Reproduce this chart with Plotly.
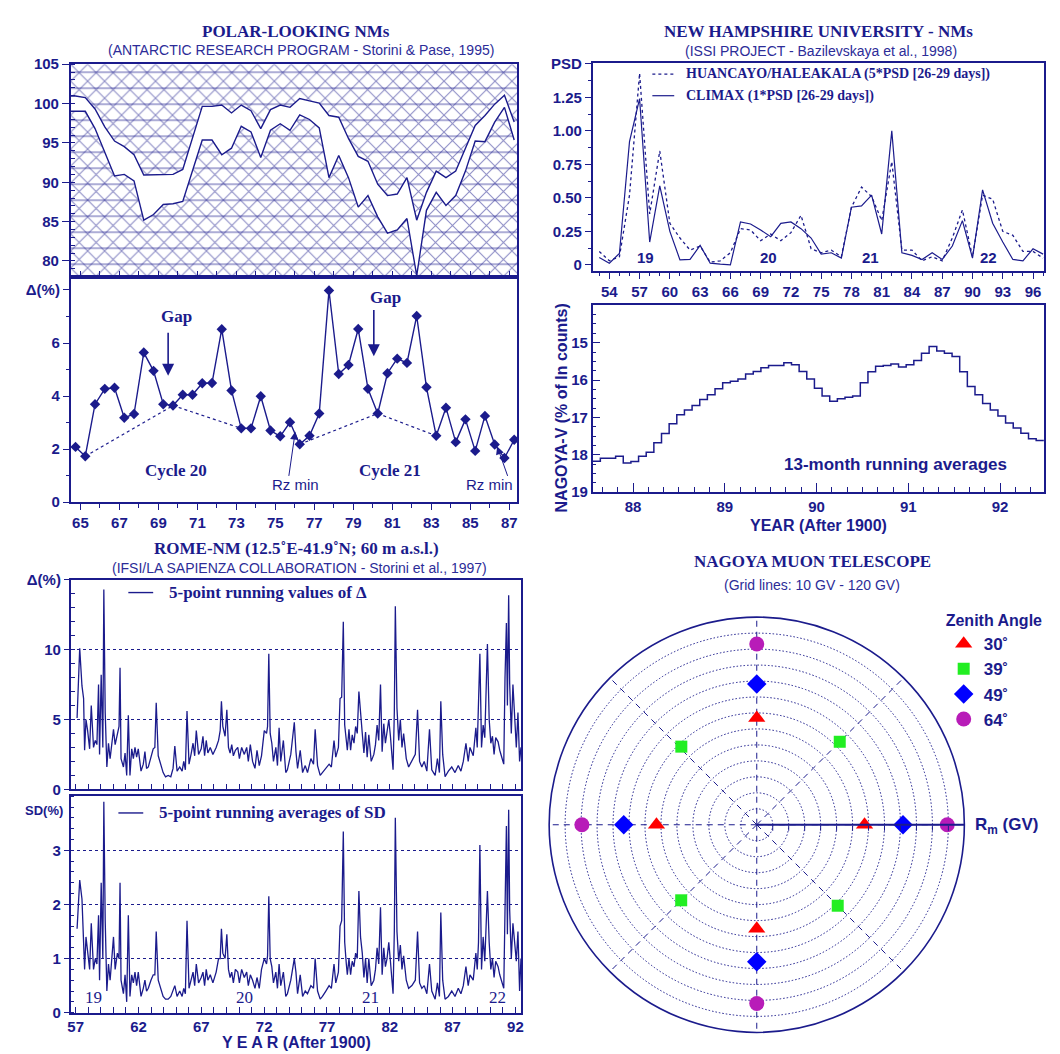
import plotly.graph_objects as go

W, H = 1060, 1054
NAVY = '#1b1b8c'
SUB = '#2c2c98'
SANS = 'Liberation Sans, Arial, sans-serif'
SERIF = 'Liberation Serif, Times New Roman, serif'

# ---------------- Panel A / B : POLAR-LOOKING NMs ----------------
polar_years = [64.75, 65.25, 65.75, 66.25, 66.75, 67.25, 67.75, 68.25, 68.75, 69.25,
               69.75, 70.25, 70.75, 71.25, 71.75, 72.25, 72.75, 73.25, 73.75, 74.25,
               74.75, 75.25, 75.75, 76.25, 76.75, 77.25, 77.75, 78.25, 78.75, 79.25,
               79.75, 80.25, 80.75, 81.25, 81.75, 82.25, 82.75, 83.25, 83.75, 84.25,
               84.75, 85.25, 85.75, 86.25, 86.75, 87.25]
polar_upper = [100.97, 100.76, 99.31, 97.03, 95.24, 94.53, 93.5, 90.92, 90.92, 90.92,
               91.0, 91.63, 95.57, 99.64, 99.64, 99.81, 98.81, 99.81, 99.1, 96.82,
               99.23, 99.81, 99.52, 100.64, 100.35, 100.06, 98.48, 98.27, 95.57, 93.29,
               92.67, 89.76, 88.31, 88.51, 90.59, 85.19, 88.72, 91.42, 90.59, 91.42,
               94.33, 97.23, 98.48, 99.93, 101.05, 97.65]
polar_lower = [99.02, 99.02, 96.82, 93.7, 90.8, 91.0, 90.17, 85.19, 85.9, 87.18,
               87.27, 87.56, 91.42, 95.37, 95.37, 93.5, 94.33, 97.11, 96.4, 93.16,
               96.61, 97.44, 96.61, 98.56, 97.98, 96.9, 90.59, 93.41, 90.59, 86.85,
               88.31, 85.61, 83.53, 83.95, 85.4, 78.13, 86.44, 88.72, 87.06, 88.31,
               91.42, 95.24, 95.16, 97.65, 99.52, 95.37]
delta_vals = [2.08, 1.73, 3.69, 4.27, 4.31, 3.18, 3.32, 5.64, 4.95, 3.69,
              3.64, 4.05, 4.05, 4.48, 4.49, 6.52, 4.21, 2.78, 2.78, 3.99,
              2.70, 2.48, 3.01, 2.18, 2.50, 3.34, 7.98, 4.83, 5.17, 6.53,
              4.27, 3.34, 4.86, 5.41, 5.25, 7.02, 4.33, 2.50, 3.56, 2.26,
              3.12, 1.93, 3.25, 2.17, 1.66, 2.35]
# index pairs of the dotted envelope segments (cycle minima -> gap -> minima)
envelope_pairs = [(1, 10), (10, 17), (23, 31), (31, 37)]

# ---------------- Panel C : New Hampshire PSD ----------------
psd_years = [53, 54, 55, 56, 57, 58, 59, 60, 61, 62, 63, 64, 65, 66, 67, 68, 69, 70, 71, 72,
             73, 74, 75, 76, 77, 78, 79, 80, 81, 82, 83, 84, 85, 86, 87, 88, 89, 90, 91, 92,
             93, 94, 95, 96, 97]
psd_huancayo = [0.10, 0.03, 0.06, 0.52, 1.43, 0.38, 0.85, 0.31, 0.20, 0.11, 0.14, 0.02, 0.03,
                0.09, 0.27, 0.26, 0.18, 0.23, 0.18, 0.24, 0.37, 0.12, 0.09, 0.11, 0.06, 0.43,
                0.58, 0.51, 0.33, 0.77, 0.11, 0.11, 0.03, 0.06, 0.03, 0.20, 0.41, 0.06, 0.52,
                0.49, 0.25, 0.22, 0.10, 0.10, 0.05]
psd_climax = [0.054, 0.012, 0.085, 0.92, 1.24, 0.17, 0.59, 0.25, 0.037, 0.04, 0.145, 0.012,
              0.005, 0.0, 0.32, 0.305, 0.26, 0.21, 0.31, 0.32, 0.27, 0.20, 0.08, 0.09, 0.05,
              0.43, 0.44, 0.52, 0.23, 1.00, 0.09, 0.07, 0.04, 0.09, 0.04, 0.14, 0.33, 0.05,
              0.56, 0.31, 0.17, 0.04, 0.03, 0.12, 0.08]
psd_cycle_labels = ['19', '20', '21', '22']
psd_cycle_x = [57.6, 69.8, 79.9, 91.6]

# ---------------- Panel D : Nagoya-V 13-month running averages ----------------
nagoya_start = 87.56
nagoya_v = [18.17, 18.09, 18.09, 18.04, 18.22, 18.18, 18.04, 17.93, 17.68, 17.43, 17.17, 16.93,
            16.80, 16.68, 16.52, 16.39, 16.23, 16.07, 16.03, 15.97, 15.84, 15.77, 15.67, 15.61,
            15.61, 15.54, 15.59, 15.77, 15.97, 16.22, 16.43, 16.57, 16.50, 16.46, 16.43, 16.07,
            15.78, 15.63, 15.61, 15.57, 15.65, 15.59, 15.48, 15.28, 15.10, 15.22, 15.28, 15.37,
            15.78, 16.17, 16.39, 16.63, 16.80, 16.96, 17.15, 17.28, 17.42, 17.57, 17.62]

# ---------------- Panels E / F : Rome NM ----------------
rome_years = [57.11, 57.32, 57.50, 57.63, 57.71, 57.82, 57.95, 58.11, 58.24, 58.42, 58.56, 58.69,
              58.82, 58.90, 59.03, 59.16, 59.24, 59.35, 59.48, 59.61, 59.74, 59.87, 60.01, 60.14,
              60.32, 60.45, 60.53, 60.61, 60.80, 60.93, 61.06, 61.19, 61.32, 61.46, 61.59, 61.72,
              61.85, 61.98, 62.20, 62.38, 62.51, 62.64, 62.78, 62.99, 63.17, 63.30, 63.41, 63.57,
              63.78, 63.96, 64.15, 64.36, 64.57, 64.75, 64.89, 65.07, 65.28, 65.47, 65.60, 65.73,
              65.86, 66.02, 66.20, 66.34, 66.47, 66.60, 66.78, 66.99, 67.13, 67.26, 67.39, 67.52,
              67.71, 67.92, 68.18, 68.37, 68.50, 68.60, 68.71, 68.89, 69.03, 69.16, 69.29, 69.42,
              69.55, 69.71, 69.90, 70.03, 70.21, 70.42, 70.61, 70.74, 70.90, 71.08, 71.27, 71.43,
              71.61, 71.79, 72.01, 72.19, 72.27, 72.37, 72.48, 72.61, 72.74, 72.93, 73.06, 73.19,
              73.32, 73.53, 73.72, 73.85, 74.12,
              74.40, 74.53, 74.66, 74.87, 75.06, 75.27, 75.45, 75.72, 75.93, 76.06, 76.25, 76.46,
              76.64, 76.91, 77.17, 77.35, 77.56, 77.70, 77.91, 78.04, 78.17, 78.30, 78.41, 78.54,
              78.62, 78.75, 78.88, 79.01, 79.15, 79.28, 79.41, 79.54, 79.67, 79.81, 79.94, 80.07,
              80.20, 80.33, 80.52, 80.73, 80.86, 80.99, 81.12, 81.26, 81.39, 81.52, 81.65, 81.78,
              81.92, 82.05, 82.26, 82.36, 82.44, 82.57, 82.71, 82.84, 82.97, 83.10, 83.31, 83.50,
              83.76, 84.03, 84.21, 84.37, 84.55, 84.74, 84.95, 85.16, 85.34, 85.61, 85.79, 85.95,
              86.06, 86.21, 86.40, 86.66, 86.93, 87.19, 87.45, 87.66, 87.85, 88.06, 88.24, 88.38,
              88.64, 88.85, 88.96, 89.06, 89.17, 89.30, 89.43, 89.56, 89.69, 89.77, 89.91, 90.04,
              90.17, 90.30, 90.43, 90.62, 90.75, 90.88, 91.07, 91.17, 91.28, 91.36, 91.46, 91.54,
              91.67, 91.80, 91.94, 92.07, 92.20, 92.33, 92.44]
rome_delta = [5.1, 10.1, 7.4, 6.5, 2.8, 5.0, 4.2, 2.9, 6.0, 3.0, 3.5, 3.2,
              7.5, 2.5, 8.2, 3.0, 14.3, 5.5, 1.6, 3.3, 2.2, 3.5, 4.3, 3.2,
              3.9, 4.5, 8.7, 2.2, 1.6, 2.6, 1.0, 5.3, 1.0, 2.9, 2.2, 3.0,
              2.3, 2.9, 1.3, 1.8, 2.7, 1.5, 1.6, 2.3, 2.9, 3.0, 6.2, 2.4,
              1.8, 1.2, 0.9, 1.0, 0.9, 1.5, 3.1, 1.3, 1.6, 1.3, 2.0, 1.4,
              5.6, 1.8, 2.6, 3.3, 2.4, 4.2, 2.5, 2.9, 3.8, 2.4, 3.5, 2.6,
              3.0, 2.5, 3.0, 3.5, 4.2, 6.3, 4.5, 3.8, 5.7, 3.0, 2.6, 3.2,
              2.4, 2.8, 3.0, 2.2, 3.0, 2.5, 3.0, 2.0, 3.2, 2.0, 1.5, 2.8,
              1.7, 2.4, 4.2, 4.0, 4.5, 9.7, 4.0, 3.3, 2.0, 3.0, 1.7, 4.4,
              2.0, 3.5, 1.2, 1.4, 2.5,
              4.8, 2.7, 1.5, 2.8, 1.2, 1.7, 1.2, 2.2, 1.8, 4.3, 1.7, 1.0,
              1.2, 1.5, 1.8, 1.6, 3.5, 2.3, 3.0, 6.5, 6.6, 12.0, 4.6, 3.5,
              2.8, 4.3, 2.8, 3.9, 3.3, 4.5, 4.0, 7.0, 5.2, 4.0, 2.6, 4.1,
              2.3, 3.9, 2.0, 2.5, 3.2, 4.6, 3.5, 7.5, 2.7, 4.7, 3.3, 4.0,
              5.0, 3.8, 1.4, 5.5, 13.1, 5.8, 3.5, 5.0, 3.0, 4.0, 2.2, 1.6,
              2.0, 2.5, 5.7, 2.0, 1.6, 2.0, 1.3, 4.3, 1.4, 1.0, 2.2, 1.2,
              6.3, 2.5, 0.9, 1.3, 1.6, 1.2, 1.7, 1.3, 2.0, 3.3, 2.0, 3.0,
              2.4, 4.4, 3.0, 5.7, 9.7, 3.0, 4.6, 3.7, 7.2, 10.4, 5.0, 3.3,
              3.8, 2.5, 3.7, 3.4, 2.8, 2.4, 1.8, 8.0, 11.9, 6.0, 13.9, 7.6,
              4.0, 7.5, 4.5, 3.0, 5.5, 2.0, 3.0]
rome_sd = [1.55, 2.45, 2.1, 1.2, 0.8, 1.4, 1.15, 0.8, 1.65, 0.8, 1.0, 0.9,
           1.8, 0.6, 2.4, 1.0, 3.9, 1.7, 0.4, 0.9, 0.6, 1.0, 1.4, 0.8,
           1.1, 1.0, 2.4, 0.6, 0.35, 0.7, 0.2, 1.8, 0.3, 0.7, 0.55, 0.75,
           0.5, 0.75, 0.3, 0.45, 0.6, 0.4, 0.45, 0.6, 0.7, 0.7, 1.5, 0.6,
           0.45, 0.3, 0.25, 0.25, 0.3, 0.4, 0.5, 0.3, 0.4, 0.3, 0.45, 0.35,
           1.7, 0.45, 0.65, 0.75, 0.5, 0.9, 0.55, 0.65, 0.75, 0.5, 0.8, 0.6,
           0.7, 0.55, 0.75, 1.0, 1.0, 1.55, 1.1, 1.0, 1.45, 0.8, 0.65, 0.75,
           0.55, 0.8, 0.75, 0.55, 0.8, 0.65, 0.75, 0.5, 0.7, 0.6, 0.45, 0.65,
           0.45, 0.8, 1.0, 0.9, 1.05, 2.15, 1.0, 0.85, 0.55, 0.75, 0.45, 0.9,
           0.5, 0.75, 0.3, 0.35, 0.6,
           1.0, 0.75, 0.35, 0.7, 0.3, 0.4, 0.35, 0.5, 0.45, 1.0, 0.4, 0.25,
           0.3, 0.4, 0.5, 0.45, 0.9, 0.55, 0.75, 1.6, 1.7, 3.35, 1.3, 0.9,
           0.7, 1.0, 0.7, 0.95, 0.85, 1.1, 1.0, 2.25, 1.4, 1.1, 0.65, 1.0,
           0.55, 1.0, 0.5, 0.6, 0.8, 1.2, 0.9, 1.95, 0.7, 1.2, 0.85, 1.0,
           1.3, 0.95, 0.35, 1.5, 3.6, 1.5, 0.95, 1.25, 0.8, 1.05, 0.6, 0.45,
           0.5, 0.6, 1.5, 0.55, 0.45, 0.5, 0.35, 0.9, 0.4, 0.25, 0.55, 0.3,
           1.85, 0.6, 0.25, 0.3, 0.4, 0.3, 0.45, 0.35, 0.5, 0.85, 0.5, 0.7,
           0.6, 1.1, 0.8, 1.3, 3.1, 0.8, 1.4, 0.95, 1.8, 2.25, 1.3, 0.8,
           1.0, 0.65, 0.95, 0.85, 0.7, 0.6, 0.45, 1.9, 3.45, 1.45, 3.75, 1.9,
           1.0, 1.65, 1.3, 0.95, 1.5, 0.4, 1.0]
rome_cycle_labels = ['19', '20', '21', '22']
rome_cycle_x = [58.4, 70.4, 80.5, 90.6]

# ---------------- Panel G : Nagoya muon telescope ----------------
zenith_names = ['30˚', '39˚', '49˚', '64˚']
zenith_r = [[67.5, 66.9, 62.8, 65.2],
            [73.5, 68.0, 66.9, 71.7],
            [91.6, 88.1, 83.3, 85.8],
            [119.3, 113.2, 109.5, 111.9]]
zenith_theta = [[0, 90, 180, 270],
                [45, 134, 225, 315],
                [0, 90, 180, 270],
                [0, 90, 180, 270]]
zenith_symbols = ['triangle-up', 'square', 'diamond', 'circle']
zenith_colors = ['#ff0000', '#22ee22', '#0000ff', '#b81cb8']
zenith_sizes = [15, 12, 15, 15]
grid_gv = [10, 20, 30, 40, 50, 60, 70, 80, 90, 100, 110, 120]

# =====================================================================
fig = go.Figure()


def dxp(a, b):
    return [a / W, b / W]


def dyp(a, b):
    return [1 - b / H, 1 - a / H]


tickfont = dict(family=SANS, size=15, color=NAVY, weight='bold')


def axis(**kw):
    base = dict(showline=True, linecolor=NAVY, linewidth=1.5, mirror=True,
                zeroline=False, showgrid=False, tickcolor=NAVY, tickwidth=1.2,
                tickfont=tickfont, fixedrange=True)
    base.update(kw)
    return base


# ---- Panel A: hatched region polygons
xa0, xa1 = 64.5, 87.4
ya0, ya1 = 78, 105
up_x = [xa0] + polar_years + [xa1, xa1, xa0]
up_y = [polar_upper[0]] + polar_upper + [polar_upper[-1], ya1, ya1]
lo_x = [xa0] + polar_years + [xa1, xa1, xa0]
lo_y = [polar_lower[0]] + polar_lower + [polar_lower[-1], ya0, ya0]
for px_, py_ in [(up_x, up_y), (lo_x, lo_y)]:
    fig.add_trace(go.Scatter(x=px_, y=py_, xaxis='x', yaxis='y', mode='none', fill='toself',
                             fillcolor='white',
                             fillpattern=dict(shape='x', size=12, solidity=0.17,
                                              fgcolor=NAVY, bgcolor='white'),
                             hoverinfo='skip', showlegend=False))
    fig.add_trace(go.Scatter(x=px_, y=py_, xaxis='x', yaxis='y', mode='none', fill='toself',
                             fillcolor='rgba(0,0,0,0)',
                             fillpattern=dict(shape='-', size=16, solidity=0.09,
                                              fgcolor=NAVY, bgcolor='rgba(0,0,0,0)'),
                             hoverinfo='skip', showlegend=False))
for yy in [polar_upper, polar_lower]:
    fig.add_trace(go.Scatter(x=[xa0] + polar_years, y=[yy[0]] + yy, xaxis='x', yaxis='y',
                             mode='lines', line=dict(color=NAVY, width=1.4),
                             hoverinfo='skip', showlegend=False))

# ---- Panel B: delta with diamonds
for i0, i1 in envelope_pairs:
    fig.add_trace(go.Scatter(x=[polar_years[i0], polar_years[i1]],
                             y=[delta_vals[i0], delta_vals[i1]],
                             xaxis='x2', yaxis='y2', mode='lines',
                             line=dict(color=NAVY, width=1.2, dash='dot'),
                             showlegend=False, hoverinfo='skip'))
fig.add_trace(go.Scatter(x=polar_years, y=delta_vals, xaxis='x2', yaxis='y2',
                         mode='lines+markers', line=dict(color=NAVY, width=1.4),
                         marker=dict(symbol='diamond', size=8, color=NAVY),
                         showlegend=False))

# ---- Panel C: PSD
fig.add_trace(go.Scatter(x=psd_years, y=psd_huancayo, xaxis='x3', yaxis='y3', mode='lines',
                         line=dict(color=NAVY, width=1.3, dash='dot'), showlegend=False))
fig.add_trace(go.Scatter(x=psd_years, y=psd_climax, xaxis='x3', yaxis='y3', mode='lines',
                         line=dict(color=NAVY, width=1.2), showlegend=False))

# ---- Panel D: Nagoya step curve
nag_x = [nagoya_start + i / 12 for i in range(len(nagoya_v) + 1)]
nag_y = nagoya_v + [nagoya_v[-1]]
fig.add_trace(go.Scatter(x=nag_x, y=nag_y, xaxis='x4', yaxis='y4', mode='lines',
                         line=dict(color=NAVY, width=1.5, shape='hv'), showlegend=False))

# ---- Panels E/F: Rome
fig.add_trace(go.Scatter(x=rome_years, y=rome_delta, xaxis='x5', yaxis='y5', mode='lines',
                         line=dict(color=NAVY, width=1.3), showlegend=False))
fig.add_trace(go.Scatter(x=rome_years, y=rome_sd, xaxis='x6', yaxis='y6', mode='lines',
                         line=dict(color=NAVY, width=1.3), showlegend=False))

# ---- Panel G: polar markers
for name, rr, th, sym, col, sz in zip(zenith_names, zenith_r, zenith_theta, zenith_symbols,
                                       zenith_colors, zenith_sizes):
    fig.add_trace(go.Scatterpolar(r=rr, theta=th, mode='markers', name=name,
                                  marker=dict(symbol=sym, size=sz, color=col,
                                              line=dict(width=0)),
                                  showlegend=True))

# =====================================================================
ann = []


def txt(x, y, s, size=15, family=SANS, bold=True, xref='paper', yref='paper',
        xanchor='center', yanchor='middle', color=NAVY, angle=0):
    if xref == 'paper':
        x = x / W
    if yref == 'paper':
        y = 1 - y / H
    ann.append(dict(x=x, y=y, text=s, xref=xref, yref=yref, showarrow=False,
                    xanchor=xanchor, yanchor=yanchor, textangle=angle,
                    font=dict(family=family, size=size, color=color,
                              weight='bold' if bold else 'normal')))


# titles
txt(287, 15, 'POLAR-LOOKING NMs', 17, SERIF)
txt(292, 34, '(ANTARCTIC RESEARCH PROGRAM - Storini & Pase, 1995)', 14, SANS, False, color=SUB)
txt(812, 15, 'NEW HAMPSHIRE UNIVERSITY - NMs', 17, SERIF)
txt(815, 35, '(ISSI PROJECT - Bazilevskaya et al., 1998)', 14, SANS, False, color=SUB)
txt(287, 540, 'ROME-NM (12.5˚E-41.9˚N; 60 m a.s.l.)', 17, SERIF)
txt(290, 560, '(IFSI/LA SAPIENZA COLLABORATION - Storini et al., 1997)', 14, SANS, False,
    color=SUB)
txt(806, 553, 'NAGOYA MUON TELESCOPE', 17, SERIF)
txt(806, 577, '(Grid lines: 10 GV - 120 GV)', 14, SANS, False, color=SUB)

# panel B annotations
txt(69.93, 6.99, 'Gap', 17, SERIF, xref='x2', yref='y2')
txt(80.65, 7.73, 'Gap', 17, SERIF, xref='x2', yref='y2')
txt(69.88, 1.18, 'Cycle 20', 17, SERIF, xref='x2', yref='y2')
txt(80.9, 1.18, 'Cycle 21', 17, SERIF, xref='x2', yref='y2')
txt(76.05, 0.66, 'Rz min', 15, SANS, False, xref='x2', yref='y2')
txt(86.0, 0.66, 'Rz min', 15, SANS, False, xref='x2', yref='y2')
for (hx, hy, tx, ty, w, hs) in [(69.5, 4.76, 69.5, 6.44, 1.6, 1.5),
                                 (80.05, 5.5, 80.05, 7.3, 1.6, 1.5),
                                 (76.02, 2.66, 75.68, 0.93, 1.0, 1.6),
                                 (86.38, 2.1, 86.94, 0.93, 1.0, 1.6)]:
    ann.append(dict(x=hx, y=hy, ax=tx, ay=ty, xref='x2', yref='y2', axref='x2', ayref='y2',
                    text='', showarrow=True, arrowhead=2, arrowsize=hs, arrowwidth=w,
                    arrowcolor=NAVY))

# panel C legend + cycle numbers
txt(677, 58, 'HUANCAYO/HALEAKALA (5*PSD [26-29 days])', 14, SERIF, xanchor='left')
txt(677, 80, 'CLIMAX (1*PSD [26-29 days])', 14, SERIF, xanchor='left')
for lab, xx in zip(psd_cycle_labels, psd_cycle_x):
    txt(xx, 0.054, lab, 15, SANS, xref='x3', yref='y3')

# panel D texts
txt(890, 455, '13-month running averages', 17, SANS)
txt(812, 517, 'YEAR (After 1900)', 16, SANS)
txt(554, 397, 'NAGOYA-V (% of ln counts)', 16, SANS, angle=-90)

# panel E/F texts
txt(157, 585, '5-point running values of Δ', 17, SERIF, xanchor='left')
txt(147, 809, '5-point running averages of SD', 17, SERIF, xanchor='left')
txt(33, 807, 'SD(%)', 13, SANS, xanchor='center')
for lab, xx in zip(rome_cycle_labels, rome_cycle_x):
    txt(xx, 0.28, lab, 17, SERIF, False, xref='x6', yref='y6')
txt(287, 1042, 'Y E A R (After 1900)', 16, SANS)

# polar texts
txt(967, 822, 'R<sub>m</sub> (GV)', 17, SANS, xanchor='left')

shapes = []
for yy, dash in [(58, 'dot'), (80, 'solid')]:
    shapes.append(dict(type='line', xref='paper', yref='paper', x0=645 / W, x1=667 / W,
                       y0=1 - yy / H, y1=1 - yy / H, line=dict(color=NAVY, width=1.2, dash=dash)))
shapes.append(dict(type='line', xref='paper', yref='paper', x0=118 / W, x1=143 / W,
                   y0=1 - 585 / H, y1=1 - 585 / H, line=dict(color=NAVY, width=1.4)))
shapes.append(dict(type='line', xref='paper', yref='paper', x0=108 / W, x1=133 / W,
                   y0=1 - 809 / H, y1=1 - 809 / H, line=dict(color=NAVY, width=1.4)))

fig.update_layout(
    width=W, height=H, margin=dict(l=0, r=0, t=0, b=0),
    paper_bgcolor='white', plot_bgcolor='white',
    annotations=ann, shapes=shapes,
    xaxis=axis(domain=dxp(60, 509), anchor='y', range=[xa0, xa1], tickmode='linear',
               tick0=65, dtick=1, ticks='inside', ticklen=6, showticklabels=False),
    yaxis=axis(domain=dyp(48, 264), anchor='x', range=[ya0, ya1],
               tickvals=[80, 85, 90, 95, 100, 105], ticks='outside', ticklen=7,
               minor=dict(dtick=1, tick0=78, ticks='inside', ticklen=5, tickcolor=NAVY)),
    xaxis2=axis(domain=dxp(60, 509), anchor='y2', range=[xa0, xa1],
                tickvals=list(range(65, 88, 2)), ticks='outside', ticklen=6,
                minor=dict(dtick=1, tick0=65, ticks='outside', ticklen=4, tickcolor=NAVY)),
    yaxis2=axis(domain=dyp(264, 493), anchor='x2', range=[0, 8.5],
                tickvals=[0, 2, 4, 6, 8], ticktext=['0', '2', '4', '6', 'Δ(%)'],
                ticks='outside', ticklen=6,
                minor=dict(dtick=1, tick0=0, ticks='outside', ticklen=3, tickcolor=NAVY)),
    xaxis3=axis(domain=dxp(585, 1039), anchor='y3', range=[52.35, 97.1],
                tickvals=list(range(54, 97, 3)), ticks='outside', ticklen=6,
                minor=dict(dtick=1, tick0=54, ticks='outside', ticklen=3, tickcolor=NAVY)),
    yaxis3=axis(domain=dyp(47, 258), anchor='x3', range=[-0.045, 1.505],
                tickvals=[0, 0.25, 0.5, 0.75, 1.0, 1.25, 1.5],
                ticktext=['0', '0.25', '0.50', '0.75', '1.00', '1.25', 'PSD'],
                ticks='outside', ticklen=6,
                minor=dict(dtick=0.125, tick0=0, ticks='outside', ticklen=3, tickcolor=NAVY)),
    xaxis4=axis(domain=dxp(585, 1039), anchor='y4', range=[87.56, 92.48],
                tickvals=[88, 89, 90, 91, 92], ticks='inside', ticklen=9,
                minor=dict(dtick=1 / 6, tick0=88, ticks='inside', ticklen=5, tickcolor=NAVY)),
    yaxis4=axis(domain=dyp(293, 483), anchor='x4', range=[19, 14],
                tickvals=[15, 16, 17, 18, 19], ticks='inside', ticklen=8,
                minor=dict(dtick=0.25, tick0=14, ticks='inside', ticklen=4, tickcolor=NAVY)),
    xaxis5=axis(domain=dxp(60, 513), anchor='y5', range=[56.6, 92.45], tickmode='linear',
                tick0=57, dtick=1, ticks='inside', ticklen=6, showticklabels=False),
    yaxis5=axis(domain=dyp(572, 785), anchor='x5', range=[0, 15],
                tickvals=[0, 5, 10, 15], ticktext=['0', '5', '10', 'Δ(%)'],
                ticks='outside', ticklen=5, showgrid=True, gridcolor=NAVY, gridwidth=1,
                griddash='dot',
                minor=dict(dtick=1, tick0=0, ticks='inside', ticklen=5, tickcolor=NAVY,
                           showgrid=False)),
    xaxis6=axis(domain=dxp(60, 513), anchor='y6', range=[56.6, 92.45],
                tickvals=list(range(57, 93, 5)), ticks='inside', ticklen=6,
                minor=dict(dtick=1, tick0=57, ticks='inside', ticklen=6, tickcolor=NAVY)),
    yaxis6=axis(domain=dyp(792, 1012), anchor='x6', range=[0, 4],
                tickvals=[0, 1, 2, 3], ticks='outside', ticklen=5, showgrid=True,
                gridcolor=NAVY, gridwidth=1, griddash='dot',
                minor=dict(dtick=0.2, tick0=0, ticks='inside', ticklen=4, tickcolor=NAVY,
                           showgrid=False)),
    polar=dict(
        domain=dict(x=dxp(539, 961), y=dyp(610, 1032)),
        bgcolor='white',
        radialaxis=dict(range=[0, 130], tickvals=grid_gv, showticklabels=False,
                        ticks='outside', ticklen=5, tickcolor=NAVY, showline=True,
                        linecolor=NAVY, linewidth=2, angle=0, gridcolor=NAVY, gridwidth=1,
                        griddash='1.5px,2px'),
        angularaxis=dict(tickvals=[0, 45, 90, 135, 180, 225, 270, 315],
                         showticklabels=False, ticks='', showline=True, linecolor=NAVY,
                         linewidth=1.6, gridcolor=NAVY, gridwidth=1, griddash='6px,5px',
                         direction='counterclockwise', rotation=0),
    ),
    showlegend=True,
    legend=dict(x=938 / W, y=1 - 598 / H, xanchor='left', yanchor='top',
                title=dict(text='Zenith Angle',
                           font=dict(family=SANS, size=16, color=NAVY, weight='bold')),
                font=dict(family=SANS, size=17, color=NAVY, weight='bold'),
                bgcolor='rgba(0,0,0,0)', tracegroupgap=0, itemwidth=30),
)

fig.write_html('out.html')
